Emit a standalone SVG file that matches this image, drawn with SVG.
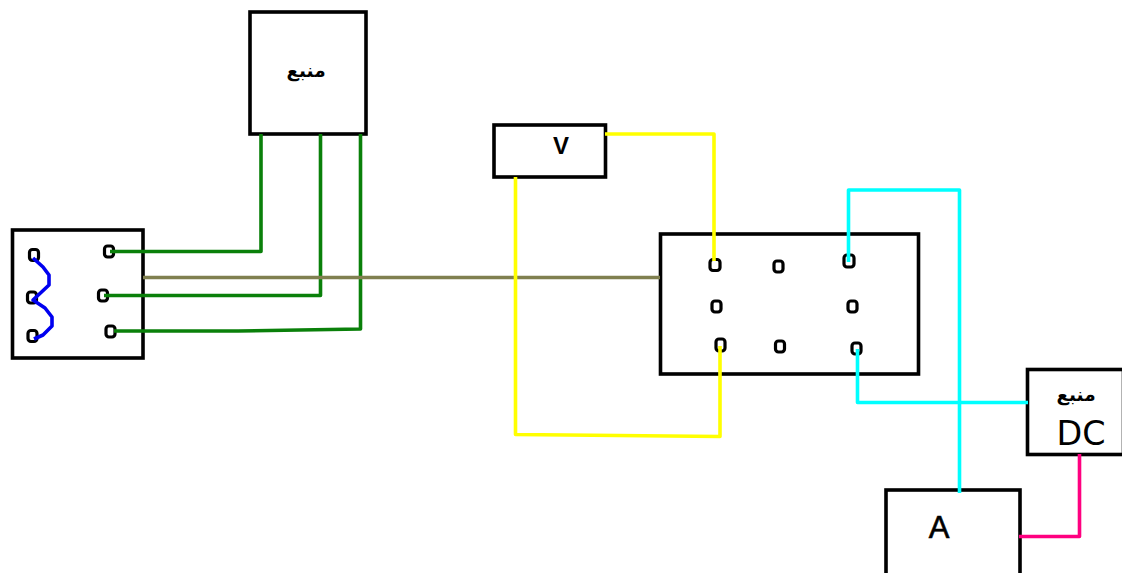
<svg xmlns="http://www.w3.org/2000/svg" width="1122" height="573" viewBox="0 0 1122 573">
<style>
.box{fill:#fff;stroke:#000;stroke-width:3.6}
.t{fill:#fff;stroke:#000;stroke-width:3.2;}
.w{fill:none;stroke-width:3.6;stroke-linejoin:round;stroke-linecap:butt}
.g{stroke:#0a800a}.y{stroke:#ffff00}.c{stroke:#00ffff}.p{stroke:#ff0080}.o{stroke:#808050}.b{stroke:#0000f0}
.ar{font-family:"Noto Sans","DejaVu Sans",sans-serif;font-weight:700;font-size:18.500px;fill:#000;text-anchor:middle}
.la{font-family:"Liberation Sans",sans-serif;fill:#000;text-anchor:middle}
.se{font-family:"DejaVu Sans","Liberation Sans",sans-serif;fill:#000;text-anchor:middle}
</style>
<rect width="1122" height="573" fill="#fff"/>
<g id="source-top"><rect class="box" x="250" y="12" width="116" height="122"/><text class="ar" x="306" y="77">منبع</text></g>
<g id="coil-box"><rect class="box" x="12.500" y="230" width="130.500" height="128"/>
<rect class="t" x="29.500" y="249.500" width="9" height="11" rx="3"/><rect class="t" x="27.500" y="292" width="9" height="11" rx="3"/><rect class="t" x="28" y="330.500" width="9" height="11" rx="3"/>
<rect class="t" x="104.500" y="246" width="9" height="11" rx="3"/><rect class="t" x="98.500" y="290" width="9" height="11" rx="3"/><rect class="t" x="106" y="326" width="9" height="11" rx="3"/></g>
<g id="voltmeter"><rect class="box" x="494" y="125" width="111.500" height="52"/><text class="la" x="561" y="154" font-size="24" font-weight="700">V</text></g>
<g id="center-box"><rect class="box" x="660.500" y="234" width="258" height="140"/>
<rect class="t" x="710" y="259.500" width="10" height="11" rx="3"/><rect class="t" x="774" y="261" width="9" height="11" rx="3"/><rect class="t" x="844" y="255" width="10" height="12" rx="3"/>
<rect class="t" x="712" y="301" width="9" height="11" rx="3"/><rect class="t" x="848" y="301" width="9" height="11" rx="3"/>
<rect class="t" x="716" y="339" width="9" height="12" rx="3"/><rect class="t" x="775.500" y="341" width="9" height="11" rx="3"/><rect class="t" x="852" y="343" width="9" height="11" rx="3"/></g>
<g id="source-dc"><rect class="box" x="1027.500" y="369.500" width="96" height="85"/><text class="ar" x="1076" y="401">منبع</text><text class="se" x="1081" y="445" font-size="33" textLength="49" lengthAdjust="spacingAndGlyphs">DC</text></g>
<g id="ammeter"><rect class="box" x="886" y="490" width="134" height="90"/><text class="la" x="939" y="538" font-size="31" stroke="#000" stroke-width=".6">A</text></g>
<g id="connectors">
<path class="w g" d="M110 251.500H261V134"/>
<path class="w g" d="M104 295.500H320.500V134"/>
<path class="w g" d="M114 331H238L360.500 329V134"/>
<path class="w o" d="M143 277.500H660"/>
<path class="w y" d="M605 134H714V261"/>
<path class="w y" d="M515.500 177V434.500L618 435.500L720 436.500V346"/>
<path class="w c" d="M848.500 262V190H959.500V493"/>
<path class="w c" d="M857.500 349V402.500H1028"/>
<path class="w p" d="M1019 536.500H1079.500V454"/>
<path class="w b" d="M33 258L43 267L49 275V285L33 300L45 308L52 317V326L43 335L34 339"/>
</g>
</svg>
